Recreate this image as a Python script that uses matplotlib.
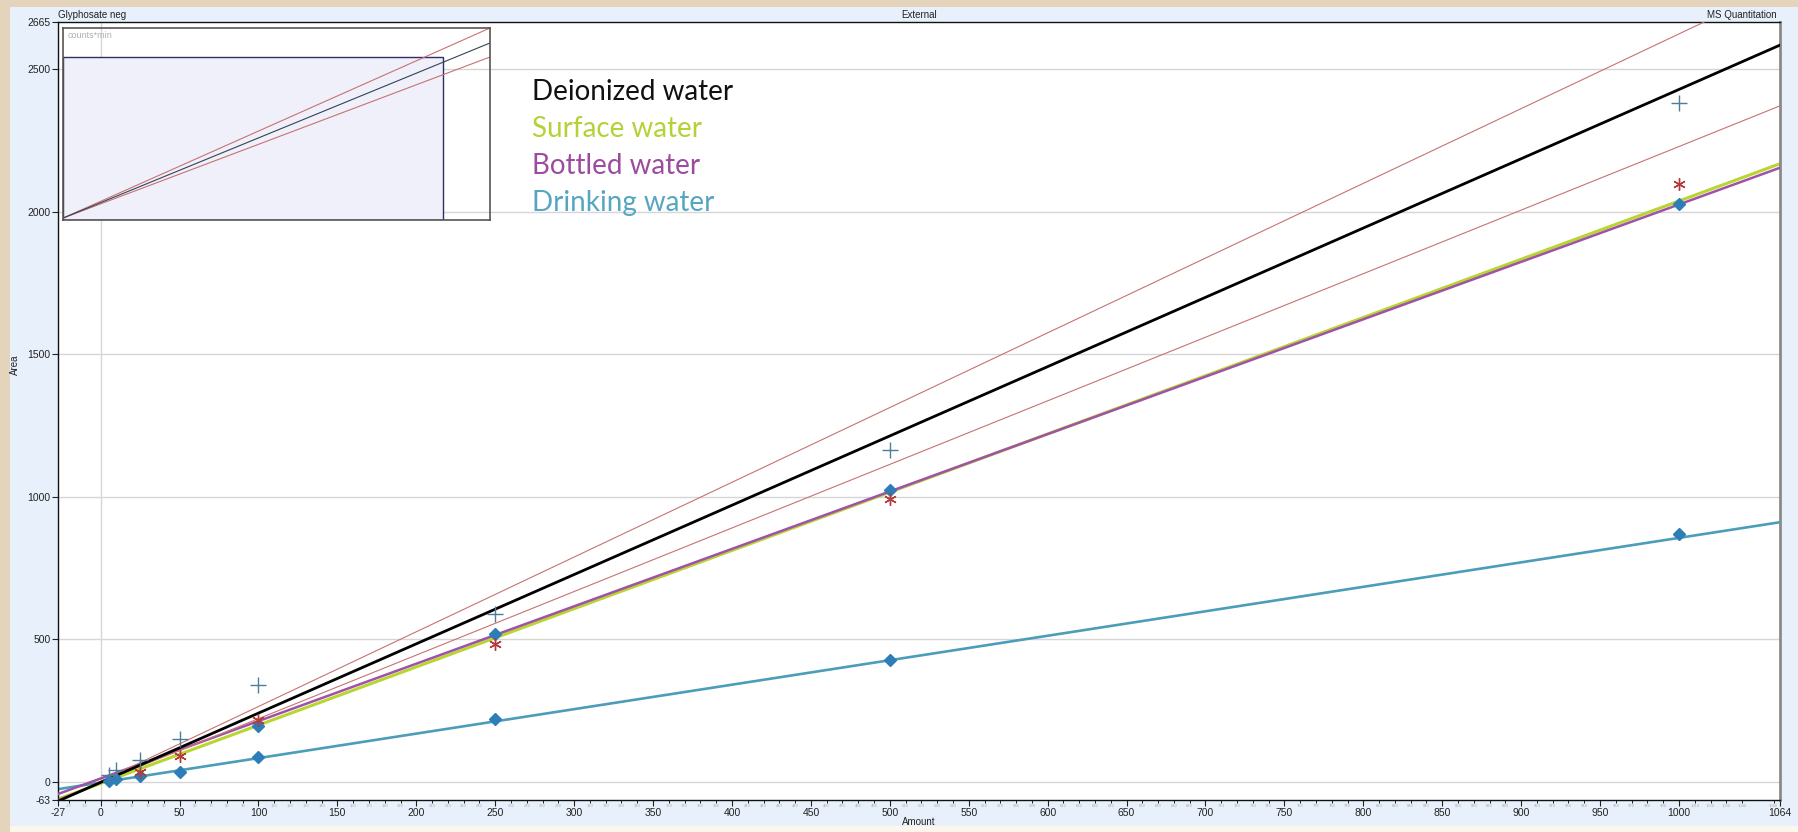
"""
Glyphosate (neg) external calibration curves, four water matrices.
Renders the MS Quantitation style overlay to out.png (1798x832).
"""
import matplotlib
matplotlib.use("Agg")
import matplotlib.pyplot as plt
import matplotlib.patches as mpatches
import numpy as np

# fitted calibration lines, given by their values at the plot edges
LINE_X = [-27, 1064]
DEION_LINE = [-67, 2584]
SURFACE_LINE = [-60, 2168]
BOTTLED_LINE = [-42, 2154]
DRINKING_LINE = [-25, 911]
BAND_UPPER = [-68, 2791]
BAND_LOWER = [-61, 2371]

# calibration points
DEION_X = [5, 10, 25, 50, 100, 250, 500, 1000]
DEION_Y = [25, 42, 77, 151, 340, 588, 1163, 2382]
OUTLIER_X = [25, 50, 100, 250, 500, 1000]
OUTLIER_Y = [35, 90, 217, 483, 991, 2098]
BOTTLED_X = [100, 250, 500, 1000]
BOTTLED_Y = [196, 518, 1023, 2028]
DRINKING_X = [5, 10, 25, 50, 100, 250, 500, 1000]
DRINKING_Y = [4, 9, 22, 35, 88, 221, 427, 870]

# overview thumbnail (fractions of the thumbnail box)
THUMB_X = [0.0, 1.0]
THUMB_UPPER = [0.01, 1.0]
THUMB_MID = [0.01, 0.922]
THUMB_LOWER = [0.01, 0.849]

X_TICKS = [-27] + list(range(0, 1001, 50)) + [1064]
Y_TICKS = [-63, 0, 500, 1000, 1500, 2000, 2500, 2665]

LEGEND = [
    ("Deionized water", "#111111"),
    ("Surface water", "#B3D236"),
    ("Bottled water", "#9C4C9E"),
    ("Drinking water", "#56A6C0"),
]

W, H = 1798, 832
fig = plt.figure(figsize=(W / 100, H / 100), dpi=100)
fig.patch.set_facecolor("#E4D4BC")

# window panels behind the plot
fig.patches.append(mpatches.Rectangle((10 / W, 6 / H), 1 - 10 / W, 1 - 13 / H,
                                      transform=fig.transFigure, facecolor="#E8F1FB",
                                      edgecolor="none", zorder=-10))
fig.patches.append(mpatches.Rectangle((10 / W, 0), 1 - 10 / W, 6 / H,
                                      transform=fig.transFigure, facecolor="#FCF6EC",
                                      edgecolor="none", zorder=-10))

left, right, top, bottom = 58, 1780, 22, 800
ax = fig.add_axes([left / W, 1 - bottom / H, (right - left) / W, (bottom - top) / H])
ax.set_zorder(1)
ax.set_facecolor("white")
ax.set_xlim(LINE_X[0], LINE_X[1])
ax.set_ylim(-63, 2665)

for y in [0, 500, 1000, 1500, 2000, 2500]:
    ax.axhline(y, color="#D6D6D6", lw=1.0, zorder=0)
ax.axvline(0, color="#D6D6D6", lw=1.0, zorder=0)

ax.plot(LINE_X, DRINKING_LINE, color="#4C9DB8", lw=1.9, zorder=2)
ax.plot(LINE_X, SURFACE_LINE, color="#B8D630", lw=2.2, zorder=2)
ax.plot(LINE_X, BOTTLED_LINE, color="#A052A8", lw=1.8, zorder=3)
ax.plot(LINE_X, BAND_UPPER, color="#C87272", lw=0.8, zorder=3)
ax.plot(LINE_X, BAND_LOWER, color="#C87272", lw=0.8, zorder=3)
ax.plot(LINE_X, DEION_LINE, color="#000000", lw=2.0, zorder=4)

ax.plot(DRINKING_X, DRINKING_Y, ls="none", marker="D", ms=6, color="#2C7DB8", zorder=5)
ax.plot(BOTTLED_X, BOTTLED_Y, ls="none", marker="D", ms=6, color="#2C7DB8", zorder=5)
ax.plot(OUTLIER_X, OUTLIER_Y, ls="none", marker=(6, 2, 0), ms=9, mew=1.0,
        color="#B53A3A", zorder=5)
ax.plot(DEION_X, DEION_Y, ls="none", marker="+", ms=11, mew=1.0, color="#4C7E98", zorder=5)

# axes styling
ax.set_xticks(X_TICKS)
ax.set_xticklabels([str(t) for t in X_TICKS], fontsize=7.5, family="Liberation Sans")
ax.set_yticks(Y_TICKS)
ax.set_yticklabels([str(t) for t in Y_TICKS], fontsize=7.5, family="Liberation Sans")
minor = [v for v in range(-20, 1061, 10) if v % 50 != 0]
ax.set_xticks(minor, minor=True)
ax.set_xticklabels([str(v) for v in minor], minor=True, fontsize=2.6, color="#A0A0A0")
ax.tick_params(axis="x", which="major", length=4, width=0.8, pad=1.5, colors="#222222")
ax.tick_params(axis="x", which="minor", length=2, width=0.6, pad=1, labelcolor="#A8A8A8")
ax.tick_params(axis="y", which="major", length=4, width=0.8, pad=1.5, colors="#222222")
for side in ("left", "bottom", "top"):
    ax.spines[side].set_color("#111111")
    ax.spines[side].set_linewidth(1.0)
ax.spines["right"].set_color("#8A8A8A")
ax.spines["right"].set_linewidth(2.0)

# overview thumbnail in the upper-left corner
thumb = ax.inset_axes([(63 - left) / (right - left), (bottom - 220) / (bottom - top),
                       (490 - 63) / (right - left), (220 - 28) / (bottom - top)])
thumb.set_xlim(0, 1)
thumb.set_ylim(0, 1)
thumb.set_xticks([])
thumb.set_yticks([])
thumb.set_facecolor("none")
for s in thumb.spines.values():
    s.set_color("#555555")
    s.set_linewidth(1.2)
thumb.add_patch(mpatches.Rectangle((0, 0), 0.89, 0.849, facecolor="#F0F0FA",
                                   edgecolor="#2E2E6A", lw=1.0))
thumb.plot(THUMB_X, THUMB_UPPER, color="#C87272", lw=0.8)
thumb.plot(THUMB_X, THUMB_LOWER, color="#C87272", lw=0.8)
thumb.plot(THUMB_X, THUMB_MID, color="#334455", lw=0.8)
thumb.text(0.01, 0.985, "counts*min", fontsize=6.5, color="#B0B0B0", va="top", ha="left",
           family="Liberation Sans")

# series names
for i, (name, col) in enumerate(LEGEND):
    fig.text(532 / W, 1 - (92 + 37 * i) / H, name, fontsize=20, color=col,
             family="Lato", va="center", ha="left", zorder=5)

# header and axis labels
fig.text(left / W, 1 - 15 / H, "Glyphosate neg", fontsize=7, family="Liberation Sans",
         va="center", ha="left", color="#222222")
fig.text((left + right) / 2 / W, 1 - 15 / H, "External", fontsize=7,
         family="Liberation Sans", va="center", ha="center", color="#222222")
fig.text(1777 / W, 1 - 15 / H, "MS Quantitation", fontsize=7, family="Liberation Sans",
         va="center", ha="right", color="#222222")
fig.text(15 / W, 1 - 365 / H, "Area", fontsize=7, family="Liberation Sans",
         rotation=90, va="center", ha="center", color="#222222")
fig.text((left + right) / 2 / W, 1 - 822 / H, "Amount", fontsize=7,
         family="Liberation Sans", va="center", ha="center", color="#222222")

fig.savefig("out.png", dpi=100, facecolor=fig.get_facecolor())
